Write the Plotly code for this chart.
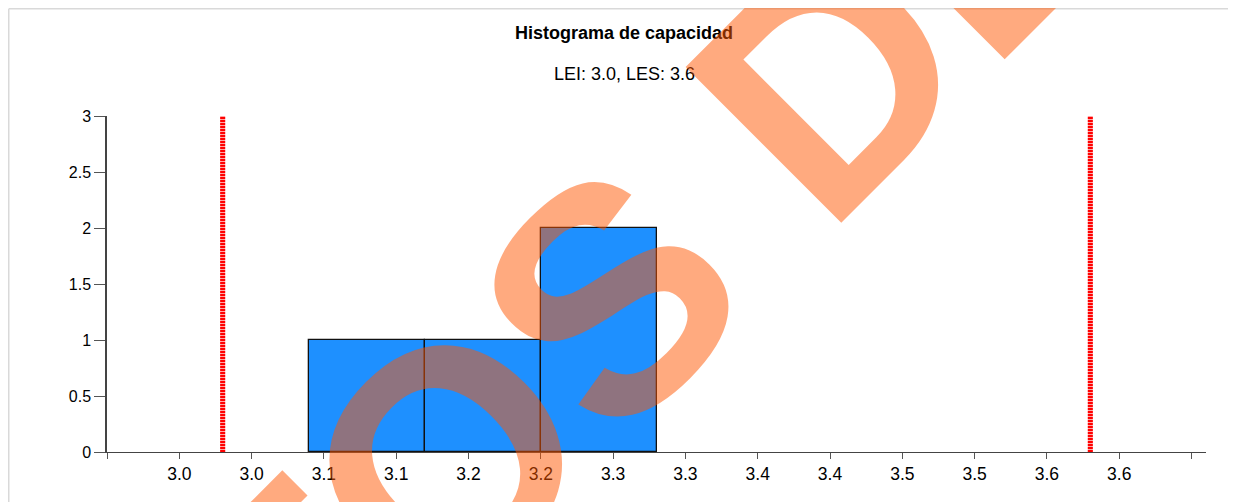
import plotly.graph_objects as go

# ---- data ----
bin_edges = [3.06, 3.14, 3.22, 3.30]
counts = [1, 1, 2]
lei = 3.0
les = 3.6
x_range = [2.92, 3.68]
y_range = [0, 3]
x_tick_vals = [2.92, 2.97, 3.02, 3.07, 3.12, 3.17, 3.22, 3.27, 3.32, 3.37,
               3.42, 3.47, 3.52, 3.57, 3.62, 3.67]
x_tick_text = ["", "3.0", "3.0", "3.1", "3.1", "3.2", "3.2", "3.3", "3.3",
               "3.4", "3.4", "3.5", "3.5", "3.6", "3.6", ""]
y_tick_vals = [0, 0.5, 1, 1.5, 2, 2.5, 3]
y_tick_text = ["0", "0.5", "1", "1.5", "2", "2.5", "3"]
title_text = "Histograma de capacidad"
subtitle_text = f"LEI: {lei:.1f}, LES: {les:.1f}"
watermark_text = "DATOS DE PRUEBA"

# ---- layout geometry ----
# the page body adds an 8px margin, so the figure is drawn 8px in from the corner
OFF = 8
W, H = 1236 - OFF, 502 - OFF
ML, MT = 107 - OFF, 116 - OFF
MR = W - (1206 - OFF)
MB = H - (452 - OFF)
PW, PH = W - ML - MR, H - MT - MB


def px(x_page):
    return (x_page - OFF - ML) / PW


def py(y_page):
    return (H - MB - (y_page - OFF)) / PH


centers = [(a + b) / 2 for a, b in zip(bin_edges[:-1], bin_edges[1:])]
widths = [b - a for a, b in zip(bin_edges[:-1], bin_edges[1:])]

font = "Liberation Sans, Arial, sans-serif"

fig = go.Figure()
fig.add_trace(go.Bar(
    x=centers, y=counts, width=widths,
    marker=dict(color="#1E90FF", line=dict(color="#111111", width=1.3)),
    hoverinfo="skip", showlegend=False,
))
for v in (lei, les):
    fig.add_trace(go.Scatter(
        x=[v, v], y=y_range, mode="lines",
        line=dict(color="rgba(255,0,0,0.35)", width=5),
        hoverinfo="skip", showlegend=False,
    ))
    fig.add_trace(go.Scatter(
        x=[v, v], y=y_range, mode="lines",
        line=dict(color="#ff0000", width=5, dash="2px,1px"),
        hoverinfo="skip", showlegend=False,
    ))

annotations = [
    dict(text=f"<b>{title_text}</b>", x=px(624), y=py(33), xref="paper", yref="paper",
         showarrow=False, xanchor="center", yanchor="middle",
         font=dict(family=font, size=18, color="#000")),
    dict(text=subtitle_text, x=px(624), y=py(74), xref="paper", yref="paper",
         showarrow=False, xanchor="center", yanchor="middle",
         font=dict(family=font, size=18, color="#000")),
    dict(text=f"<b>{watermark_text}</b>", x=px(997), y=py(-90), xref="paper", yref="paper",
         showarrow=False, xanchor="center", yanchor="middle", textangle=-45,
         font=dict(family=font, size=320, color="rgba(255,85,0,0.5)")),
]

shapes = [
    dict(type="line", xref="paper", yref="paper", x0=px(OFF + 0.75), x1=px(1240),
         y0=py(OFF + 0.75), y1=py(OFF + 0.75), line=dict(color="#d9d9d9", width=1.5)),
    dict(type="line", xref="paper", yref="paper", x0=px(OFF + 0.75), x1=px(OFF + 0.75),
         y0=py(OFF + 0.75), y1=py(510), line=dict(color="#d9d9d9", width=1.5)),
]

fig.update_layout(
    width=W, height=H,
    margin=dict(l=ML, r=MR, t=MT, b=MB, pad=0),
    paper_bgcolor="white", plot_bgcolor="white",
    font=dict(family=font, color="#000"),
    showlegend=False,
    bargap=0,
    annotations=annotations,
    shapes=shapes,
    xaxis=dict(range=x_range, tickmode="array", tickvals=x_tick_vals, ticktext=x_tick_text,
               showgrid=False, zeroline=False, showline=True, linecolor="#444", linewidth=1,
               ticks="outside", ticklen=6, tickcolor="#555", tickwidth=1,
               tickfont=dict(family=font, size=17.5, color="#000")),
    yaxis=dict(range=y_range, tickmode="array", tickvals=y_tick_vals, ticktext=y_tick_text,
               showgrid=False, zeroline=False, showline=True, linecolor="#444", linewidth=1.5,
               ticks="outside", ticklen=11, tickcolor="#555", tickwidth=1,
               tickfont=dict(family=font, size=16, color="#000")),
)

fig.write_html("out.html")
